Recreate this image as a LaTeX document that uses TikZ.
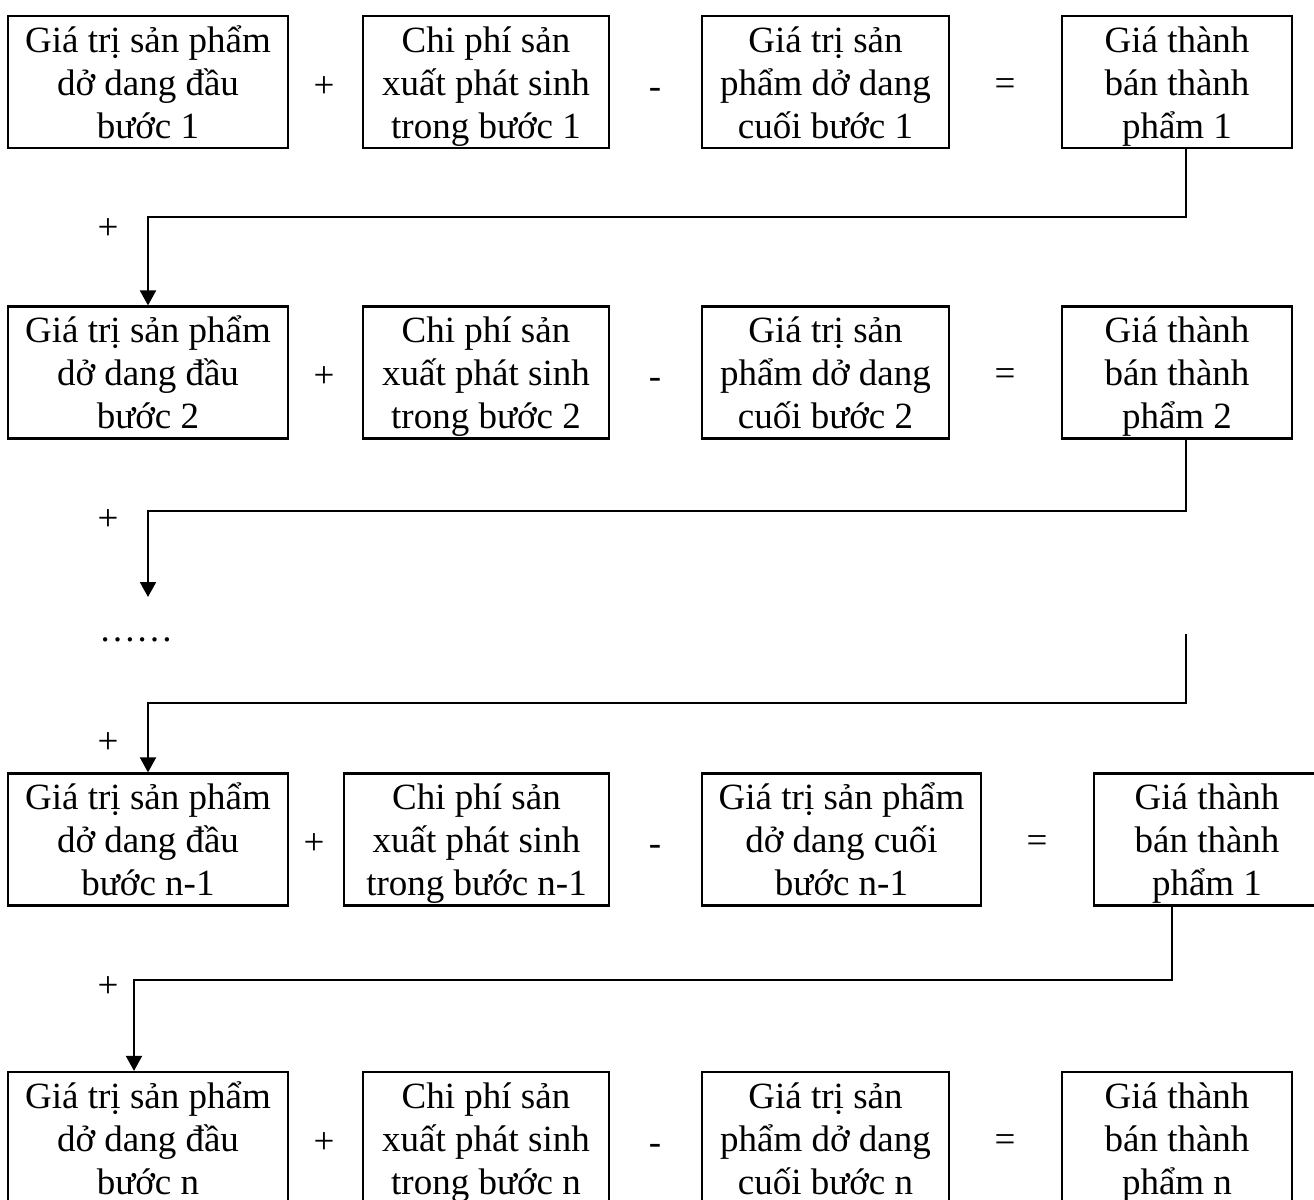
\documentclass[tikz,border=0pt]{standalone}
\usepackage{fontspec}
\setmainfont{Liberation Serif}
\usetikzlibrary{arrows.meta}
\newcommand\boxtxt[3]{\rule{0pt}{36pt}#1\\#2\\#3\rule[-10pt]{0pt}{10pt}}
\begin{document}
\begin{tikzpicture}[x=1pt,y=-1pt,
  bx/.style={draw,line width=2.2pt,inner sep=0pt,align=center,font=\fontsize{37}{43}\selectfont},
  op/.style={inner sep=0pt,font=\fontsize{37}{43}\selectfont},
  arr/.style={line width=2pt,-{Triangle[length=15pt,width=16pt]}}]
\fill[white] (0,0) rectangle (1314,1199);
\useasboundingbox (0,0) rectangle (1314,1199);
% row 1
\node[bx,minimum width=280,minimum height=130] (b11) at (148,82) {\boxtxt{Giá trị sản phẩm}{dở dang đầu}{bước 1}};
\node[bx,minimum width=246,minimum height=130] (b12) at (486,82) {\boxtxt{Chi phí sản}{xuất phát sinh}{trong bước 1}};
\node[bx,minimum width=247,minimum height=130] (b13) at (825.5,82) {\boxtxt{Giá trị sản}{phẩm dở dang}{cuối bước 1}};
\node[bx,minimum width=230,minimum height=130] (b14) at (1177,82) {\boxtxt{Giá thành}{bán thành}{phẩm 1}};
\node[op] (p11) at (324,87) {+};
\node[op] (m11) at (655,93) {-};
\node[op] (e11) at (1005,87) {=};
% row 2
\node[bx,minimum width=280,minimum height=131] (b21) at (148,372.5) {\boxtxt{Giá trị sản phẩm}{dở dang đầu}{bước 2}};
\node[bx,minimum width=246,minimum height=131] (b22) at (486,372.5) {\boxtxt{Chi phí sản}{xuất phát sinh}{trong bước 2}};
\node[bx,minimum width=247,minimum height=131] (b23) at (825.5,372.5) {\boxtxt{Giá trị sản}{phẩm dở dang}{cuối bước 2}};
\node[bx,minimum width=230,minimum height=131] (b24) at (1177,372.5) {\boxtxt{Giá thành}{bán thành}{phẩm 2}};
\node[op] (p21) at (324,377) {+};
\node[op] (m21) at (655,383) {-};
\node[op] (e21) at (1005,377) {=};
% row 3
\node[bx,minimum width=280,minimum height=131] (b31) at (148,839.5) {\boxtxt{Giá trị sản phẩm}{dở dang đầu}{bước n-1}};
\node[bx,minimum width=265,minimum height=131] (b32) at (476.5,839.5) {\boxtxt{Chi phí sản}{xuất phát sinh}{trong bước n-1}};
\node[bx,minimum width=279,minimum height=131] (b33) at (841.5,839.5) {\boxtxt{Giá trị sản phẩm}{dở dang cuối}{bước n-1}};
\node[bx,minimum width=226,minimum height=131] (b34) at (1207,839.5) {\boxtxt{Giá thành}{bán thành}{phẩm 1}};
\node[op] (p31) at (314,844) {+};
\node[op] (m31) at (655,850) {-};
\node[op] (e31) at (1037,844) {=};
% row 4
\node[bx,minimum width=280,minimum height=130] (b41) at (148,1138) {\boxtxt{Giá trị sản phẩm}{dở dang đầu}{bước n}};
\node[bx,minimum width=246,minimum height=130] (b42) at (486,1138) {\boxtxt{Chi phí sản}{xuất phát sinh}{trong bước n}};
\node[bx,minimum width=247,minimum height=130] (b43) at (825.5,1138) {\boxtxt{Giá trị sản}{phẩm dở dang}{cuối bước n}};
\node[bx,minimum width=230,minimum height=130] (b44) at (1177,1138) {\boxtxt{Giá thành}{bán thành}{phẩm n}};
\node[op] (p41) at (324,1143) {+};
\node[op] (m41) at (655,1149) {-};
\node[op] (e41) at (1005,1143) {=};
% link labels
\node[op] (q1) at (108,229) {+};
\node[op] (q2) at (108,520) {+};
\node[op] (q3) at (108,743) {+};
\node[op] (q4) at (108,987) {+};
\node[op,anchor=base west] (dots) at (99,641) {……};
% connectors
\coordinate (e2) at (148,597);
\coordinate (s3) at (1186,634);
\draw[arr] ([xshift=9pt]b14.south) -- ++(0,68) -| (b21.north);
\draw[arr] ([xshift=9pt]b24.south) -- ++(0,71) -| (e2);
\draw[arr] (s3) -- ++(0,69) -| (b31.north);
\draw[arr] ([xshift=-35pt]b34.south) -- ++(0,73) -| ([xshift=-14pt]b41.north);
\end{tikzpicture}
\end{document}
